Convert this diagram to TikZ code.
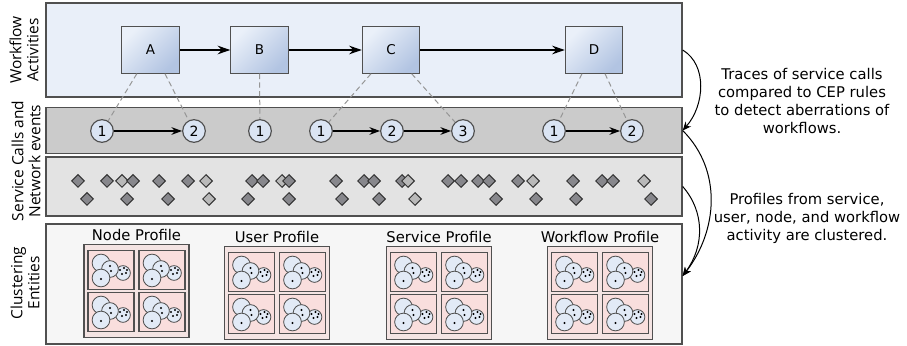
\documentclass[tikz,border=0pt]{standalone}
\usepackage{fontspec}
\setmainfont{DejaVu Sans}
\newfontfamily\sidefont{Open Sans}
\usepackage{tikz}
\usetikzlibrary{shapes.geometric, arrows.meta, positioning}
\definecolor{bandline}{RGB}{80, 80, 80}
\definecolor{wfband}{RGB}{233, 239, 249}
\definecolor{callband}{RGB}{203, 203, 203}
\definecolor{netband}{RGB}{227, 227, 227}
\definecolor{clusband}{RGB}{246, 246, 246}
\definecolor{actlight}{RGB}{234, 240, 249}
\definecolor{actdark}{RGB}{178, 196, 226}
\definecolor{callfill}{RGB}{218, 228, 243}
\definecolor{evdark}{RGB}{135, 135, 140}
\definecolor{evlight}{RGB}{185, 185, 185}
\definecolor{profout}{RGB}{244, 228, 227}
\definecolor{profcell}{RGB}{249, 222, 221}
\definecolor{clusfill}{RGB}{226, 234, 246}
\definecolor{tracegray}{RGB}{150, 150, 150}

\begin{document}
\begin{tikzpicture}[
    x=0.3mm, y=-0.3mm,
    every node/.style={font=\fontsize{12.6}{15.4}\selectfont},
    band/.style={rectangle, draw=bandline, line width=0.4mm, minimum width=190.8mm, inner sep=0},
    sidelabel/.style={rotate=90, align=center, font=\sidefont\fontsize{13.2}{14.5}\selectfont},
    act/.style={rectangle, draw=bandline, line width=0.35mm, minimum width=17.2mm, minimum height=13.9mm, top color=actlight, bottom color=actdark, shading angle=45, font=\fontsize{11.5}{11.5}\selectfont},
    call/.style={circle, draw=bandline, line width=0.35mm, fill=callfill, minimum size=6.8mm, inner sep=0, font=\fontsize{12}{12}\selectfont},
    ev/.style={diamond, draw=black!80, line width=0.3mm, fill=evdark, minimum size=3.9mm, inner sep=0},
    evlt/.style={ev, fill=evlight},
    profile/.style={rectangle, draw=bandline, line width=0.4mm, fill=profout, minimum width=31.5mm, minimum height=28mm},
    cell/.style={rectangle, draw=bandline, line width=0.35mm, fill=profcell, minimum width=13.8mm, minimum height=11.7mm},
    arr/.style={-{Stealth[length=3.8mm, width=2.6mm]}, line width=0.4mm},
    sarr/.style={-{Stealth[length=3.2mm, width=2.3mm]}, line width=0.35mm},
    curv/.style={-{Stealth[length=2.6mm, width=2.2mm]}, line width=0.3mm},
    trace/.style={draw=tracegray, line width=0.3mm, dash pattern=on 1.6mm off 1mm},
    blob/.style={draw=bandline, line width=0.25mm, fill=clusfill},
    cluster/.pic={
        \draw[blob] (-10,-7) circle[radius=2.65mm];
        \draw[blob] (12,3) circle[radius=2.2mm];
        \draw[blob] (-1,-1) circle[radius=2.5mm];
        \draw[blob] (-10,8) circle[radius=2.65mm];
        \foreach \dotx/\doty in {-1/-4, 0/1, -10/9, 9/0, 13/-2, 11/4, 15/3, 16/0}
            \fill (\dotx,\doty) circle[radius=0.35mm];
    },
]
\useasboundingbox (0,0) rectangle (907,346);

% ── Bands ──
\node[band, fill=wfband, minimum height=28.2mm] (wf) at (364,50) {};
\node[band, fill=callband, minimum height=13.7mm] (sc) at (364,130.5) {};
\node[band, fill=netband, minimum height=17.7mm] (nw) at (364,186.5) {};
\node[band, fill=clusband, minimum height=36mm] (cl) at (364,284) {};

% ── Side labels ──
\node[sidelabel] (wflabel) at (24,50) {Workflow\\Activities};
\node[sidelabel] (sclabel) at (26,161) {Service Calls and\\Network events};
\node[sidelabel] (cllabel) at (25,283) {Clustering\\Entities};

% ── Workflow activities ──
\node[act] (A) at (150.5,50) {A};
\node[act] (B) at (259.5,50) {B};
\node[act] (C) at (391,50) {C};
\node[act] (D) at (594,50) {D};

% ── Service calls ──
\node[call] (a1) at (102,131) {1};
\node[call] (a2) at (194,131) {2};
\node[call] (b1) at (260,131) {1};
\node[call] (c1) at (321,131) {1};
\node[call] (c2) at (392,131) {2};
\node[call] (c3) at (463,131) {3};
\node[call] (d1) at (554,131) {1};
\node[call] (d2) at (632,131) {2};

% ── Network events ──
\foreach \x/\s in {78/ev, 107/ev, 122/evlt, 133/ev, 159/ev, 188/ev, 206/evlt, 252/ev, 263/ev, 282/evlt, 289/ev, 336/ev, 364/ev, 374/ev, 402/ev, 408/evlt, 448/ev, 461/ev, 478/ev, 489/ev, 518/ev, 533/evlt, 573/ev, 602/ev, 613/ev, 644/evlt}
    \node[\s] (top-\x) at (\x,181) {};
\foreach \x/\s in {87/ev, 127/ev, 168/ev, 209/evlt, 248/ev, 289/ev, 342/ev, 379/ev, 415/evlt, 496/ev, 536/ev, 576/ev, 651/ev}
    \node[\s] (low-\x) at (\x,199) {};

% ── Profiles ──
\node[profile] (nodeprof) at (136.5,291) {};
\node[profile] (userprof) at (277,293) {};
\node[profile] (servprof) at (439,293) {};
\node[profile] (flowprof) at (600,293) {};
\node[above=-0.5mm of nodeprof] (nodetitle) {Node Profile};
\node[above=-0.5mm of userprof] (usertitle) {User Profile};
\node[above=-0.5mm of servprof] (servtitle) {Service Profile};
\node[above=-0.5mm of flowprof] (flowtitle) {Workflow Profile};
\foreach \p in {nodeprof,userprof,servprof,flowprof}
    \foreach \dx/\dy/\k in {-25.5/-21/1, 25.5/-21/2, -25.5/21/3, 25.5/21/4} {
        \node[cell] (\p-\k) at ([shift={(\dx,\dy)}]\p.center) {};
        \pic at (\p-\k) {cluster};
    }

% ── Notes ──
\node[align=center] (tracenote) at (802,101) {Traces of service calls\\compared to CEP rules\\to detect aberrations of\\workflows.};
\node[align=center] (profnote) at (807,218) {Profiles from service,\\user, node, and workflow\\activity are clustered.};

% ── Arrows ──
\draw[arr] (A) -- (B);
\draw[arr] (B) -- (C);
\draw[arr] (C) -- (D);
\draw[sarr] (a1) -- (a2);
\draw[sarr] (c1) -- (c2);
\draw[sarr] (c2) -- (c3);
\draw[sarr] (d1) -- (d2);
\draw[trace] ([xshift=-4.1mm]A.south) -- (a1);
\draw[trace] ([xshift=4.35mm]A.south) -- (a2);
\draw[trace] (B.south) -- (b1);
\draw[trace] ([xshift=-6mm]C.south) -- (c1);
\draw[trace] ([xshift=6.2mm]C.south) -- (c3);
\draw[trace] ([xshift=-3.6mm]D.south) -- (d1);
\draw[trace] ([xshift=3.3mm]D.south) -- (d2);
\draw[curv] (wf.east) .. controls +(25,15) and +(22,-25) .. (sc.east);
\draw[curv] (sc.east) .. controls +(40,40) and +(35,-45) .. ([yshift=2.4mm]cl.east);
\draw[curv] (nw.east) .. controls +(22,25) and +(22,-30) .. ([yshift=2.4mm]cl.east);

\end{tikzpicture}
\end{document}
